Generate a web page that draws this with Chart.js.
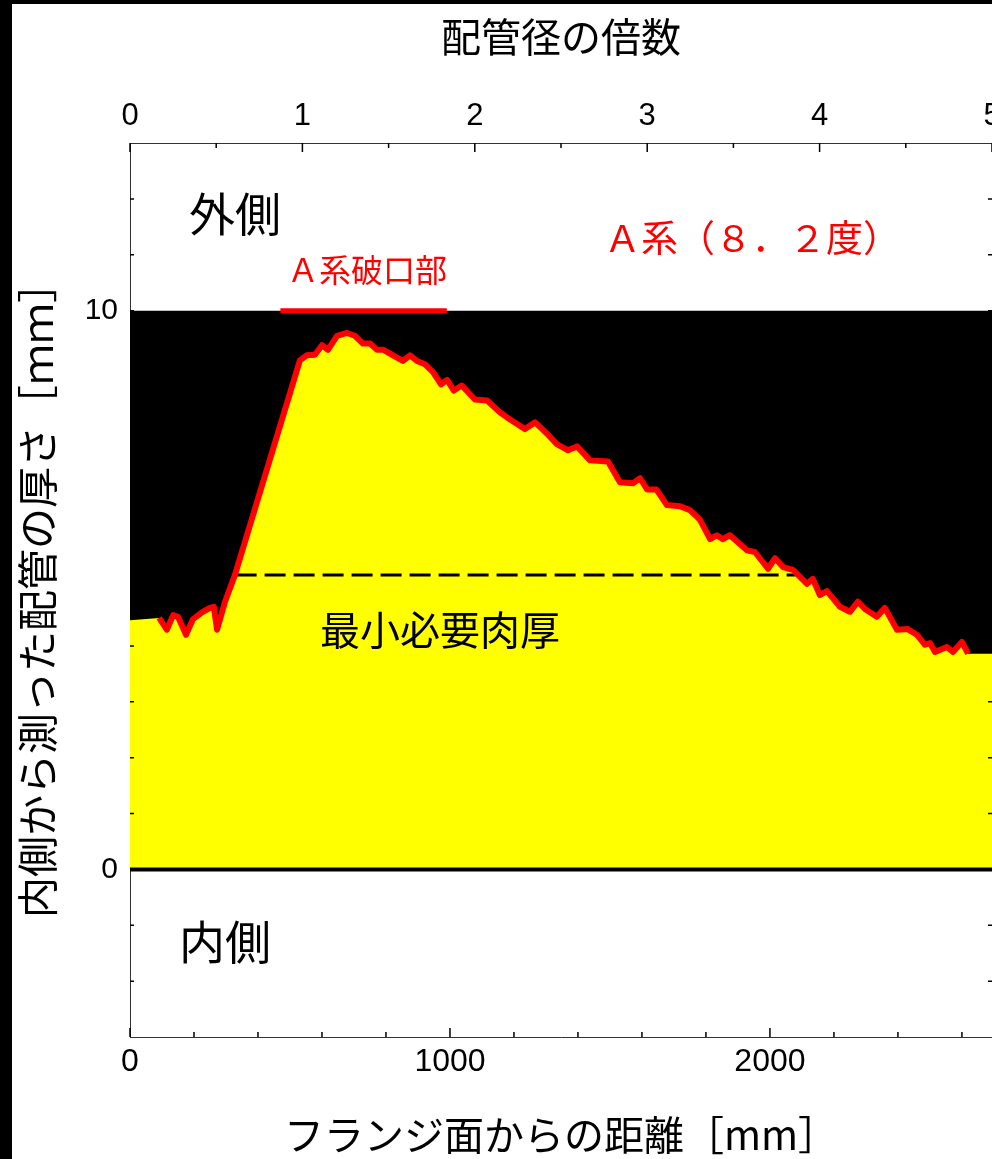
<html>

<head>
    <title>配管の厚さ A系</title>
    <script src="https://cdn.jsdelivr.net/npm/chart.js"></script>
    <style>
        body { margin: 0; background: #000; overflow: hidden; }
        #wrap { position: absolute; left: 12px; top: 4px; width: 980px; height: 1155px; background: #fff; }
    </style>
</head>

<body>
    <div id="wrap">
        <canvas id="myChart" width="980" height="1155"></canvas>
    </div>

    <script>
        // distance from the flange face [mm] and measured thickness [mm]
        const distMm = [91, 115, 135, 150, 175, 197, 225, 250, 262, 272, 297, 328, 531, 552, 578, 600, 619, 647, 678, 703,
            728, 750, 772, 791, 822, 853, 875, 897, 922, 947, 972, 991, 1012, 1037, 1078, 1116, 1156, 1188, 1234, 1266,
            1303, 1334, 1369, 1397, 1438, 1494, 1531, 1572, 1594, 1616, 1645, 1678, 1719, 1750, 1781, 1813, 1834, 1853,
            1875, 1928, 1953, 1994, 2016, 2041, 2072, 2116, 2134, 2156, 2178, 2219, 2250, 2275, 2297, 2334, 2359, 2397,
            2431, 2459, 2484, 2500, 2516, 2553, 2572, 2600, 2619];
        const thickMm = [4.50, 4.29, 4.55, 4.52, 4.20, 4.48, 4.60, 4.68, 4.70, 4.29, 4.79, 5.27, 9.11, 9.20, 9.21, 9.38, 9.30, 9.55, 9.60, 9.55,
            9.41, 9.41, 9.30, 9.30, 9.20, 9.10, 9.20, 9.10, 9.04, 8.90, 8.68, 8.76, 8.57, 8.66, 8.41, 8.39, 8.18, 8.05, 7.88, 8.00,
            7.80, 7.61, 7.50, 7.57, 7.32, 7.30, 6.93, 6.91, 7.00, 6.80, 6.80, 6.52, 6.50, 6.43, 6.26, 5.91, 5.98, 5.91,
            5.98, 5.71, 5.68, 5.38, 5.57, 5.41, 5.36, 5.11, 5.20, 4.91, 4.98, 4.70, 4.61, 4.79, 4.66, 4.52, 4.68, 4.29,
            4.30, 4.20, 4.02, 4.05, 3.89, 3.98, 3.89, 4.07, 3.86];

        // yellow level outside the measured range
        const edgeLeft = 4.46;
        const edgeRight = 3.86;

        const X_MAX = 2694;
        const PIPE_DIA = 538.8;          // mm per pipe diameter (top axis)
        const pipeWall = 10;             // outer surface
        const minThick = 5.27;           // 最小必要肉厚
        const minThickRange = [330, 2080];
        const breakRange = [470, 990];   // A系破口部

        const xTickLabels = [0, 1000, 2000];
        const topTickLabels = [0, 1, 2, 3, 4, 5];
        const yTickLabels = [0, 10];

        const pts = (xs, ys) => xs.map((x, i) => ({ x: x, y: ys[i] }));

        const fillX = [0].concat(distMm, [X_MAX]);
        const fillY = [edgeLeft].concat(thickMm, [edgeRight]);

        const labels = [
            { text: '外側', x: 328, y: 11.73, size: 46, color: '#000' },
            { text: '内側', x: 297, y: -1.29, size: 46, color: '#000' },
            { text: 'Ａ系（８．２度）', x: 1944, y: 11.30, size: 37, color: '#ff0000' },
            { text: 'Ａ系破口部', x: 741, y: 10.73, size: 32, color: '#ff0000' },
            { text: '最小必要肉厚', x: 969, y: 4.29, size: 40, color: '#000' },
        ];

        const jpFont = "'Noto Sans CJK JP', sans-serif";

        const textPlugin = {
            id: 'notes',
            afterDatasetsDraw(chart) {
                const ctx = chart.ctx;
                const xs = chart.scales.x, ys = chart.scales.y;
                ctx.save();
                ctx.textAlign = 'center';
                ctx.textBaseline = 'middle';
                labels.forEach(l => {
                    ctx.font = l.size + 'px ' + jpFont;
                    ctx.fillStyle = l.color;
                    ctx.fillText(l.text, xs.getPixelForValue(l.x), ys.getPixelForValue(l.y));
                });
                ctx.restore();
            }
        };

        // tick marks pointing into the plot
        const innerTicks = {
            id: 'innerTicks',
            afterDatasetsDraw(chart) {
                const ctx = chart.ctx;
                const a = chart.chartArea;
                ctx.save();
                ctx.strokeStyle = '#000';
                ctx.lineWidth = 1.5;
                ctx.beginPath();
                chart.scales.x.ticks.forEach(t => {
                    const p = chart.scales.x.getPixelForValue(t.value);
                    const len = xTickLabels.includes(t.value) ? 9 : 5;
                    ctx.moveTo(p, a.bottom); ctx.lineTo(p, a.bottom - len);
                });
                chart.scales.x2.ticks.forEach(t => {
                    const p = chart.scales.x2.getPixelForValue(t.value);
                    const len = topTickLabels.includes(t.value) ? 9 : 5;
                    ctx.moveTo(p, a.top); ctx.lineTo(p, a.top + len);
                });
                chart.scales.y.ticks.forEach(t => {
                    if (t.value <= -3 || t.value >= 13) return;
                    const p = chart.scales.y.getPixelForValue(t.value);
                    ctx.moveTo(a.left, p); ctx.lineTo(a.left + 4, p);
                    ctx.moveTo(a.right, p); ctx.lineTo(a.right - 4, p);
                });
                ctx.stroke();
                ctx.restore();
            }
        };

        function boxSize(size) {
            return function (scale) {
                if (scale.isHorizontal()) scale.height = size; else scale.width = size;
                scale.paddingLeft = 0; scale.paddingRight = 0;
                scale.paddingTop = 0; scale.paddingBottom = 0;
            };
        }

        const data = {
            datasets: [
                {
                    label: '測定値',
                    data: pts(distMm, thickMm),
                    borderColor: '#ff0000',
                    borderWidth: 6,
                    borderJoinStyle: 'round',
                    pointRadius: 0,
                    fill: false,
                    order: 1
                },
                {
                    label: '最小必要肉厚',
                    data: pts(minThickRange, [minThick, minThick]),
                    borderColor: '#000',
                    borderWidth: 3,
                    borderDash: [21, 8],
                    pointRadius: 0,
                    fill: false,
                    order: 2
                },
                {
                    label: 'A系破口部',
                    data: pts(breakRange, [pipeWall, pipeWall]),
                    borderColor: '#ff0000',
                    borderWidth: 5,
                    pointRadius: 0,
                    fill: false,
                    order: 3
                },
                {
                    label: '内面',
                    data: pts([0, X_MAX], [0, 0]),
                    borderColor: '#000',
                    borderWidth: 4,
                    pointRadius: 0,
                    fill: false,
                    order: 4
                },
                {
                    label: '残肉',
                    data: pts(fillX, fillY),
                    borderWidth: 0,
                    borderColor: 'rgba(0,0,0,0)',
                    backgroundColor: '#ffff00',
                    pointRadius: 0,
                    fill: 'origin',
                    order: 5
                },
                {
                    label: '配管',
                    data: pts([0, X_MAX], [pipeWall, pipeWall]),
                    borderWidth: 0,
                    borderColor: 'rgba(0,0,0,0)',
                    backgroundColor: '#000',
                    pointRadius: 0,
                    fill: 'origin',
                    order: 6
                }
            ]
        };

        const config = {
            type: 'line',
            data: data,
            plugins: [textPlugin, innerTicks],
            options: {
                responsive: false,
                animation: false,
                devicePixelRatio: 1,
                layout: { padding: 0 },
                plugins: {
                    legend: { display: false },
                    tooltip: { enabled: false }
                },
                scales: {
                    x: {
                        type: 'linear',
                        position: 'bottom',
                        min: 0,
                        max: X_MAX,
                        afterFit: boxSize(122),
                        grid: { display: false, drawTicks: false },
                        border: { display: true, color: '#333', width: 1 },
                        ticks: {
                            stepSize: 200,
                            includeBounds: false,
                            autoSkip: false,
                            maxRotation: 0,
                            padding: 6,
                            color: '#000',
                            font: { family: "'Liberation Sans', Arial, sans-serif", size: 32 },
                            callback: v => xTickLabels.includes(v) ? String(v) : ''
                        },
                        title: {
                            display: true,
                            text: 'フランジ面からの距離［mm］',
                            color: '#000',
                            font: { family: jpFont, size: 40 },
                            padding: { top: 0, bottom: 0 }
                        }
                    },
                    x2: {
                        type: 'linear',
                        position: 'top',
                        min: 0,
                        max: X_MAX / PIPE_DIA,
                        afterFit: boxSize(139),
                        grid: { display: false, drawTicks: false },
                        border: { display: true, color: '#333', width: 1 },
                        ticks: {
                            stepSize: 0.5,
                            includeBounds: false,
                            autoSkip: false,
                            maxRotation: 0,
                            padding: 8,
                            color: '#000',
                            font: { family: "'Liberation Sans', Arial, sans-serif", size: 31 },
                            callback: v => topTickLabels.includes(v) ? String(v) : ''
                        },
                        title: {
                            display: true,
                            text: '配管径の倍数',
                            color: '#000',
                            font: { family: jpFont, size: 40 },
                            padding: { top: 9, bottom: 0 }
                        }
                    },
                    y: {
                        type: 'linear',
                        position: 'left',
                        min: -3,
                        max: 13,
                        afterFit: boxSize(118),
                        grid: { display: false, drawTicks: false },
                        border: { display: true, color: '#333', width: 1 },
                        ticks: {
                            stepSize: 1,
                            autoSkip: false,
                            padding: 12,
                            color: '#000',
                            font: { family: "'Liberation Sans Narrow', 'Liberation Sans', Arial, sans-serif", size: 30 },
                            callback: v => yTickLabels.includes(v) ? String(v) : ''
                        },
                        title: {
                            display: true,
                            text: '内側から測った配管の厚さ［ｍｍ］',
                            color: '#000',
                            font: { family: jpFont, size: 41 },
                            padding: { top: 1, bottom: 0 }
                        }
                    }
                }
            }
        };
    </script>

    <script>
        const myChart = new Chart(
            document.getElementById('myChart'),
            config
        );
    </script>

</body>

</html>
